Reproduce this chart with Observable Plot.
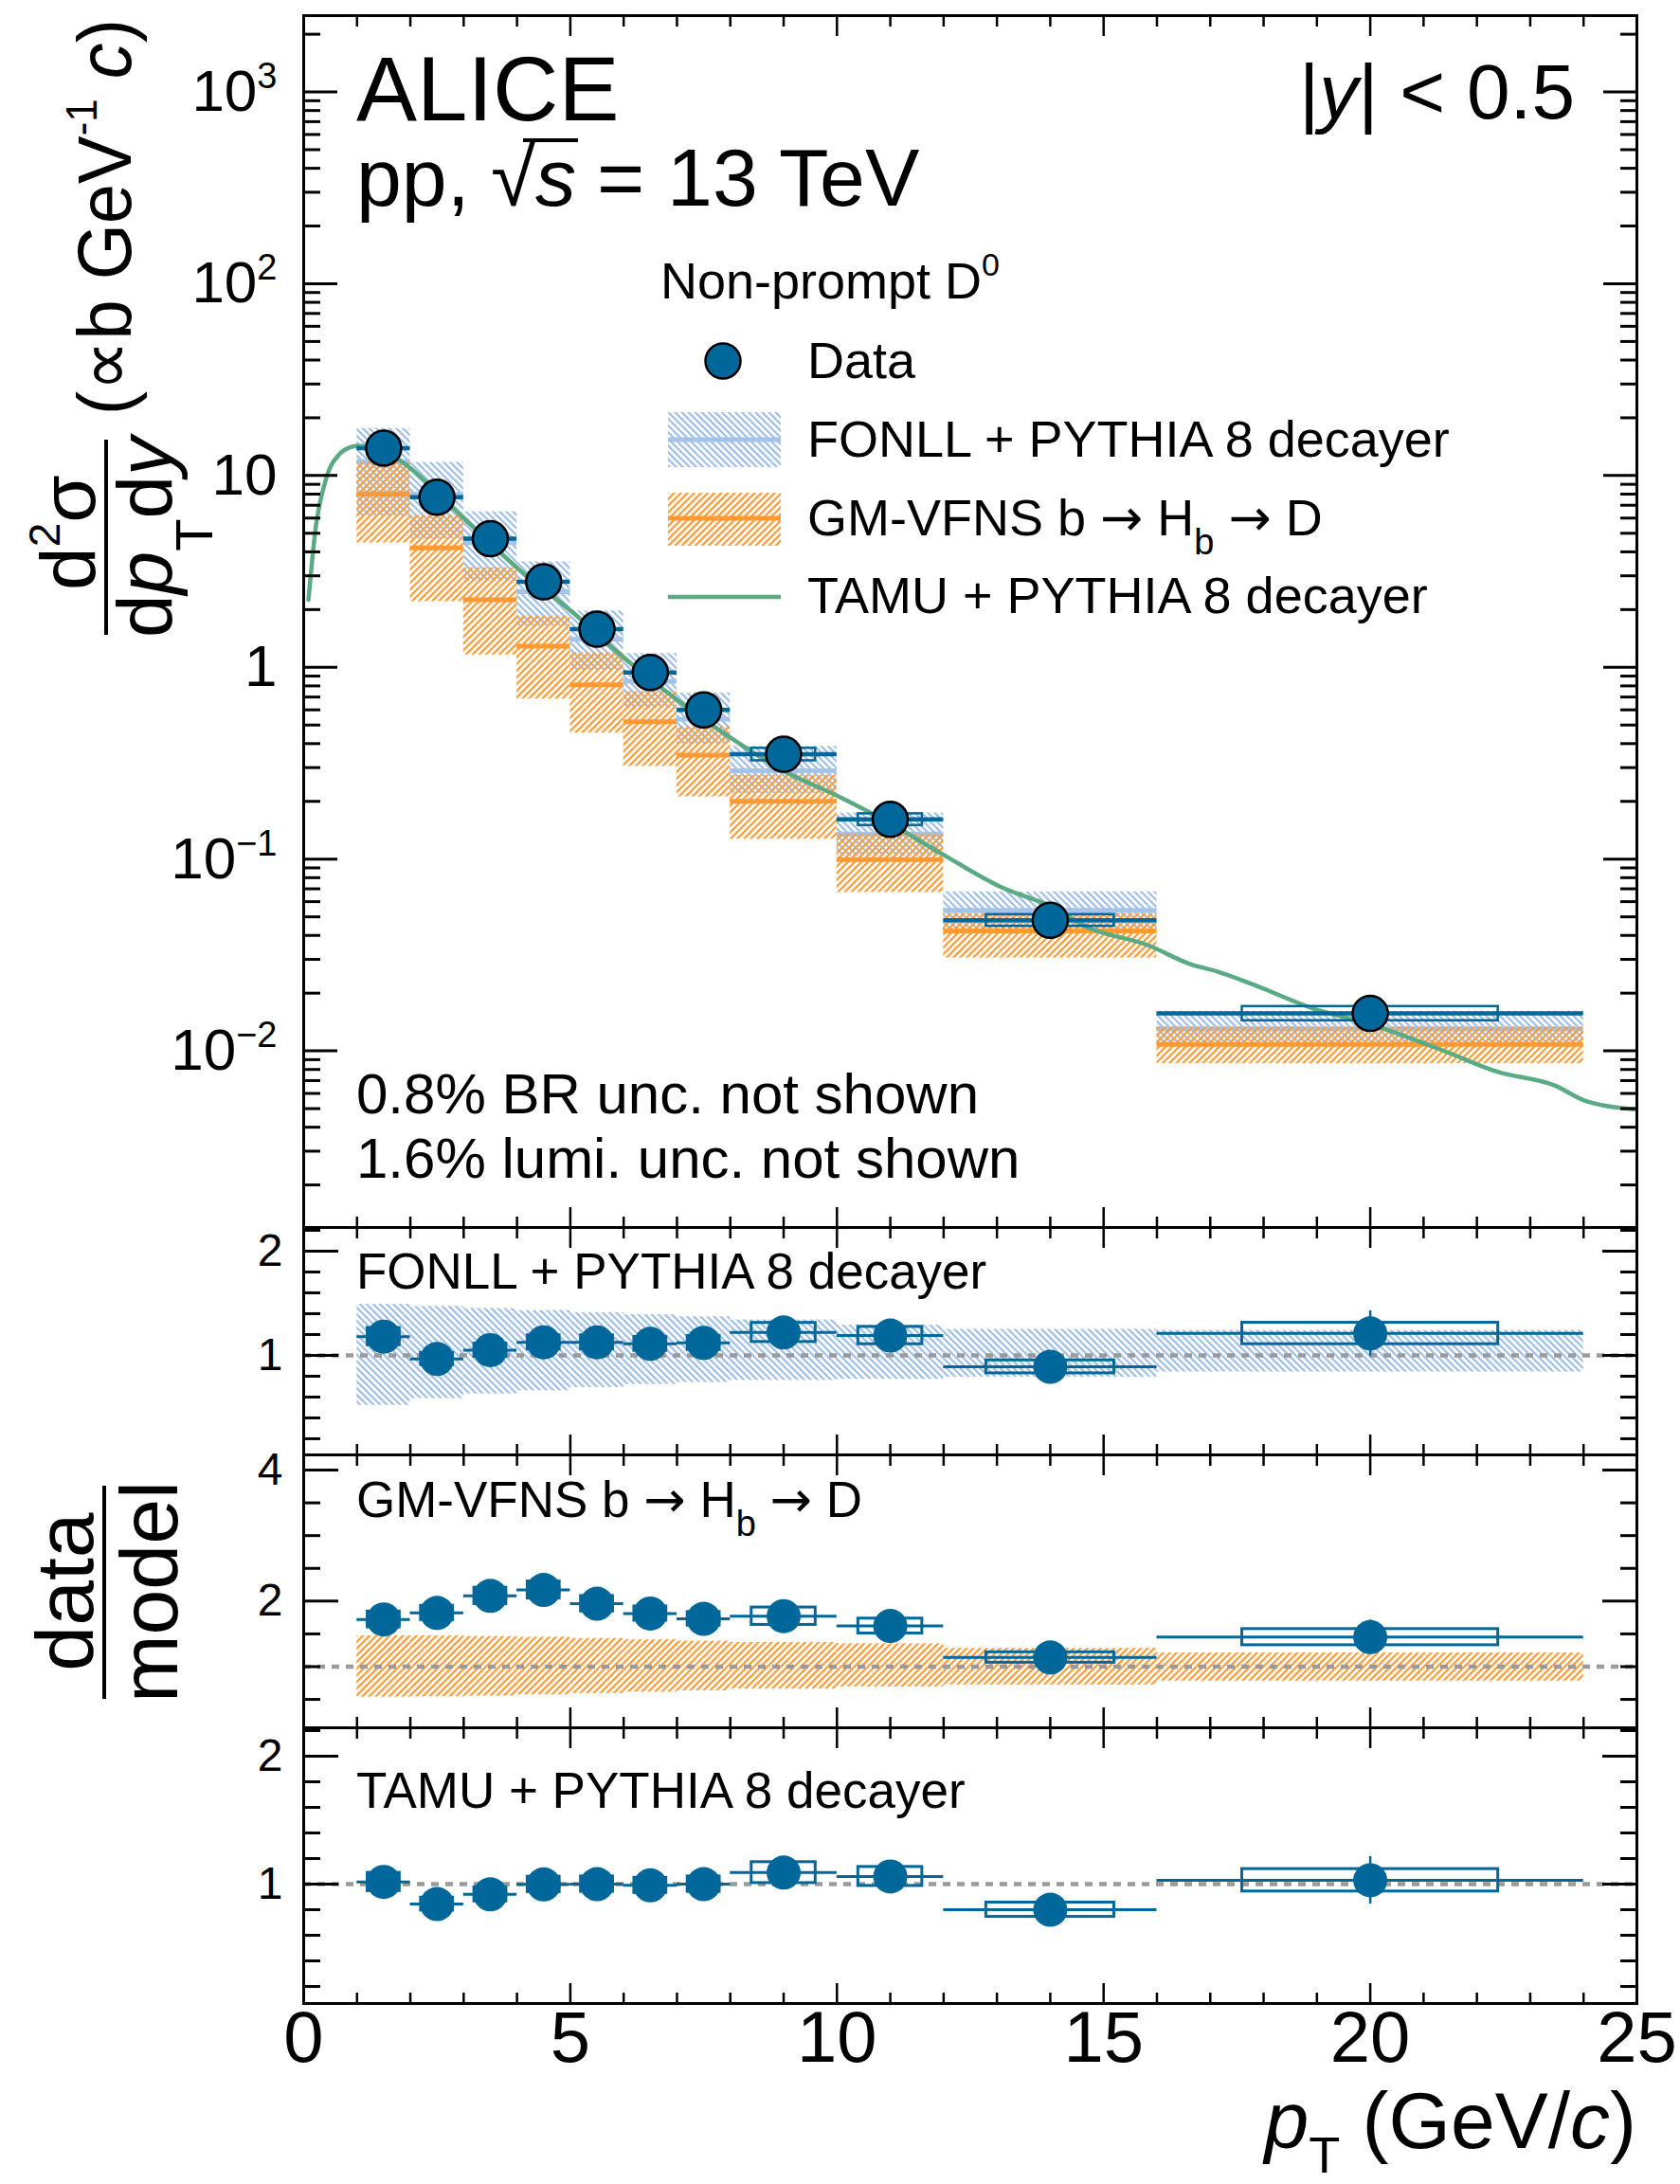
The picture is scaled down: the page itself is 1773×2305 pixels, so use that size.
<!DOCTYPE html>
<html>
<head>
<meta charset="utf-8">
<script src="https://cdn.jsdelivr.net/npm/d3@7"></script>
<script src="https://cdn.jsdelivr.net/npm/@observablehq/plot@0.6"></script>
<style>
  html, body { margin: 0; padding: 0; background: #fff; }
  #chart { position: relative; width: 1773px; height: 2305px; overflow: hidden; background: #fff; }
</style>
</head>
<body>
<svg width="0" height="0" style="position:absolute">
  <defs>
    <pattern id="hatchBlue" patternUnits="userSpaceOnUse" width="5" height="5" patternTransform="rotate(-45)">
      <rect x="0" y="0" width="2.2" height="5" fill="#9dbde3"></rect>
    </pattern>
    <pattern id="hatchOrange" patternUnits="userSpaceOnUse" width="5" height="5" patternTransform="rotate(45)">
      <rect x="0" y="0" width="2.2" height="5" fill="#ff9933"></rect>
    </pattern>
  </defs>
</svg>
<div id="chart"></div>
<script>
// ---------------- data ----------------
const binLo = [1, 2, 3, 4, 5, 6, 7, 8, 10, 12, 16];
const binHi = [2, 3, 4, 5, 6, 7, 8, 10, 12, 16, 24];
const ptCenter = [1.5, 2.5, 3.5, 4.5, 5.5, 6.5, 7.5, 9, 11, 14, 20];
const dataVal = [13.9, 7.7, 4.68, 2.79, 1.58, 0.94, 0.60, 0.352, 0.161, 0.048, 0.0157];
const dataStatRel = [0.02, 0.025, 0.03, 0.03, 0.03, 0.035, 0.04, 0.04, 0.05, 0.08, 0.18];
const dataSystRel = [0.07, 0.06, 0.06, 0.06, 0.06, 0.06, 0.06, 0.075, 0.07, 0.07, 0.085];

const fonllCentral = [11.8, 7.98, 4.46, 2.48, 1.40, 0.847, 0.536, 0.289, 0.135, 0.054, 0.013];
const fonllHigh = [17.6, 11.7, 6.47, 3.55, 1.97, 1.18, 0.734, 0.387, 0.174, 0.0675, 0.0161];
const fonllLow = [6.14, 4.67, 2.81, 1.64, 0.966, 0.610, 0.397, 0.220, 0.104, 0.0427, 0.0109];

const gmCentral = [8.0, 4.2, 2.25, 1.29, 0.81, 0.52, 0.348, 0.2, 0.0995, 0.0422, 0.0108];
const gmHigh = [11.7, 6.19, 3.30, 1.85, 1.19, 0.746, 0.49, 0.274, 0.1345, 0.052, 0.0133];
const gmLow = [4.45, 2.20, 1.16, 0.684, 0.455, 0.304, 0.211, 0.127, 0.067, 0.0305, 0.00857];

const tamuPt = [0.09, 0.22, 0.42, 0.68, 0.86, 1.0, 1.2, 1.5, 1.78, 3.0, 4.02, 5.04, 5.96, 6.98, 8.0, 9.02, 10.0, 10.97, 11.98, 13.1, 14.02, 14.66, 15.84, 16.63, 17.12, 17.82, 18.91, 20.0, 21.38, 22.37, 23.46, 24.06, 24.95];
const tamuVal = [2.25, 5.2, 9.6, 13.0, 14.0, 14.3, 14.2, 13.4, 12.1, 6.0, 3.27, 1.94, 1.15, 0.684, 0.43, 0.286, 0.214, 0.155, 0.106, 0.071, 0.0565, 0.0446, 0.0355, 0.0283, 0.026, 0.0221, 0.0167, 0.0138, 0.01, 0.0078, 0.0066, 0.00545, 0.00496];

const ratioFonll = [1.18, 0.965, 1.05, 1.125, 1.125, 1.11, 1.12, 1.22, 1.19, 0.89, 1.21];
const fonllBandHigh = [1.49, 1.47, 1.45, 1.43, 1.41, 1.39, 1.37, 1.34, 1.29, 1.25, 1.24];
const fonllBandLow = [0.52, 0.585, 0.63, 0.66, 0.69, 0.72, 0.74, 0.76, 0.77, 0.79, 0.84];

const ratioGm = [1.72, 1.82, 2.08, 2.17, 1.96, 1.81, 1.73, 1.77, 1.62, 1.14, 1.45];
const gmBandHigh = [1.47, 1.47, 1.46, 1.45, 1.43, 1.41, 1.39, 1.37, 1.35, 1.28, 1.21];
const gmBandLow = [0.535, 0.54, 0.55, 0.57, 0.59, 0.61, 0.63, 0.66, 0.69, 0.72, 0.78];

const ratioTamu = [1.017, 0.844, 0.92, 0.998, 1.0, 0.99, 1.0, 1.09, 1.06, 0.80, 1.03];

const refLine = [1];

// tick values and labels
const xMajorTicks = [0, 5, 10, 15, 20, 25];
const xMinorTicks = [1, 2, 3, 4, 6, 7, 8, 9, 11, 12, 13, 14, 16, 17, 18, 19, 21, 22, 23, 24];
const xTickLabels = ["0", "5", "10", "15", "20", "25"];
const yMainMajor = [0.01, 0.1, 1, 10, 100, 1000];
const yMainLabels = ["10^\u22122", "10^\u22121", "1", "10", "10^2", "10^3"];
const yMainMinor = [];
for (const e of [-3, -2, -1, 0, 1, 2, 3]) for (let m = 2; m <= 9; m++) {
  const v = m * Math.pow(10, e);
  if (v > 1.2e-3 && v < 2.5e3) yMainMinor.push(+v.toPrecision(3));
}
const r2Major = [1, 2], r2Minor = [0.2, 0.4, 0.6, 0.8, 1.2, 1.4, 1.6, 1.8, 2.2];
const r3Major = [2, 4], r3Minor = [0.5, 1, 1.5, 2.5, 3, 3.5];
const r4Major = [1, 2], r4Minor = [0.2, 0.4, 0.6, 0.8, 1.2, 1.4, 1.6, 1.8, 2.2];

// ---------------- style ----------------
const blue = "#00679b", lightBlue = "#a3c3e8", orange = "#ff9933", green = "#5aaa84", gray = "#9a9a9a";
const font = '"Liberation Sans", Arial, Helvetica, sans-serif';
const arrowFont = '"DejaVu Sans", sans-serif';
const W = 1773, ML = 320, MR = 46;

const rows = ptCenter.map((pt, i) => {
  const bw = binHi[i] - binLo[i];
  return {
    pt, lo: binLo[i], hi: binHi[i], boxLo: pt - 0.3 * bw, boxHi: pt + 0.3 * bw,
    val: dataVal[i], stat: dataStatRel[i], sys: dataSystRel[i],
    fonll: fonllCentral[i], fonllHi: fonllHigh[i], fonllLo: fonllLow[i],
    gm: gmCentral[i], gmHi: gmHigh[i], gmLo: gmLow[i],
    rF: ratioFonll[i], rFHi: fonllBandHigh[i], rFLo: fonllBandLow[i],
    rG: ratioGm[i], rGHi: gmBandHigh[i], rGLo: gmBandLow[i],
    rT: ratioTamu[i]
  };
});
const tamu = tamuPt.map((x, i) => ({x, y: tamuVal[i]}));

const blank = () => "";
function xTickMarks() {
  return [
    Plot.axisX({anchor: "top", ticks: xMajorTicks, tickSize: -21, tickFormat: blank, strokeWidth: 2.5, label: null}),
    Plot.axisX({anchor: "top", ticks: xMinorTicks, tickSize: -11, tickFormat: blank, strokeWidth: 2.5, label: null}),
    Plot.axisX({anchor: "bottom", ticks: xMajorTicks, tickSize: -21, tickFormat: blank, strokeWidth: 2.5, label: null}),
    Plot.axisX({anchor: "bottom", ticks: xMinorTicks, tickSize: -11, tickFormat: blank, strokeWidth: 2.5, label: null})
  ];
}
function yTickMarks(major, minor, majLen, minLen) {
  return [
    Plot.axisY({anchor: "left", ticks: major, tickSize: -majLen, tickFormat: blank, strokeWidth: 3, label: null}),
    Plot.axisY({anchor: "left", ticks: minor, tickSize: -minLen, tickFormat: blank, strokeWidth: 3, label: null}),
    Plot.axisY({anchor: "right", ticks: major, tickSize: -majLen, tickFormat: blank, strokeWidth: 3, label: null}),
    Plot.axisY({anchor: "right", ticks: minor, tickSize: -minLen, tickFormat: blank, strokeWidth: 3, label: null})
  ];
}

const chart = document.getElementById("chart");
function place(svg, top) {
  svg.style.position = "absolute";
  svg.style.left = "0px";
  svg.style.top = top + "px";
  svg.style.overflow = "visible";
  svg.style.background = "transparent";
  svg.style.maxWidth = "none";
  chart.appendChild(svg);
  const s = d3.select(svg);
  s.selectAll("text").filter(function () { return this.textContent === ""; }).remove();
  return s;
}

function rich(sel, x, y, size, parts, anchor = "start") {
  const t = sel.append("text").attr("x", x).attr("y", y).attr("font-size", size)
    .attr("text-anchor", anchor).attr("font-family", font).attr("fill", "black");
  let shift = 0;
  for (const p of parts) {
    const s = typeof p === "string" ? {t: p} : p;
    const ts = t.append("tspan").text(s.t);
    const target = s.dy !== undefined ? s.dy : 0;
    if (target - shift !== 0) ts.attr("dy", target - shift);
    shift = target;
    if (s.x !== undefined) ts.attr("x", s.x);
    if (s.size) ts.attr("font-size", s.size);
    if (s.italic) ts.attr("font-style", "italic");
    if (s.family) ts.attr("font-family", s.family);
  }
  return t;
}
const arrow = {t: "\u2192", family: arrowFont};

// ---------------- main panel ----------------
const mainSvg = Plot.plot({
  width: W, height: 1295,
  marginLeft: ML, marginRight: MR, marginTop: 16, marginBottom: 0,
  style: {fontFamily: font},
  x: {domain: [0, 25], label: null},
  y: {type: "log", domain: [1.2e-3, 2.5e3], label: null},
  marks: [
    Plot.rect(rows, {x1: "lo", x2: "hi", y1: "fonllLo", y2: "fonllHi", fill: "url(#hatchBlue)"}),
    Plot.ruleY(rows, {x1: "lo", x2: "hi", y: "fonll", stroke: lightBlue, strokeWidth: 5}),
    Plot.rect(rows, {x1: "lo", x2: "hi", y1: "gmLo", y2: "gmHi", fill: "url(#hatchOrange)"}),
    Plot.ruleY(rows, {x1: "lo", x2: "hi", y: "gm", stroke: orange, strokeWidth: 5}),
    Plot.line(tamu, {x: "x", y: "y", stroke: green, strokeWidth: 4.5, curve: "monotone-x"}),
    Plot.ruleY(rows, {x1: "lo", x2: "hi", y: "val", stroke: blue, strokeWidth: 4.5}),
    Plot.rect(rows, {x1: "boxLo", x2: "boxHi", y1: d => d.val * (1 - d.sys), y2: d => d.val * (1 + d.sys), fill: "none", stroke: blue, strokeWidth: 2.5}),
    Plot.ruleX(rows, {x: "pt", y1: d => d.val * (1 - d.stat), y2: d => d.val * (1 + d.stat), stroke: blue, strokeWidth: 2.5}),
    Plot.dot(rows, {x: "pt", y: "val", r: 18.5, fill: blue, stroke: "black", strokeWidth: 2.5}),
    Plot.frame({stroke: "black", strokeWidth: 3}),
    ...xTickMarks(),
    ...yTickMarks(yMainMajor, yMainMinor, 36, 18),
    Plot.axisY({anchor: "left", ticks: yMainMajor, tickSize: 0, tickPadding: 28, fontSize: 62,
      tickFormat: d => yMainLabels[yMainMajor.indexOf(d)], label: null})
  ]
});
const main = place(mainSvg, 0);
main.selectAll('g[aria-label="y-axis tick label"] text').each(function () {
  const s = this.textContent;
  if (s.includes("^")) {
    const [b, e] = s.split("^");
    const t = d3.select(this);
    t.text(null);
    t.append("tspan").text(b);
    t.append("tspan").attr("dy", -24).attr("font-size", 38).text(e);
  }
});

// header texts
rich(main, 376, 127, 96, ["ALICE"]);
rich(main, 376, 217, 86, ["pp,", {t: "\u221A", x: 518}, {t: "s", italic: true, x: 565}, {t: "= 13 TeV", x: 630}]);
main.append("line").attr("x1", 552).attr("x2", 610).attr("y1", 148).attr("y2", 148).attr("stroke", "black").attr("stroke-width", 4);
rich(main, 1662, 125, 82, ["|", {t: "y", italic: true}, "| < 0.5"], "end");
rich(main, 697, 315, 54, ["Non-prompt D", {t: "0", size: 34, dy: -24}]);

// legend
const lg = main.append("g");
lg.append("circle").attr("cx", 763).attr("cy", 381).attr("r", 18.5).attr("fill", blue).attr("stroke", "black").attr("stroke-width", 2.5);
lg.append("rect").attr("x", 705).attr("y", 435).attr("width", 119).attr("height", 58).attr("fill", "url(#hatchBlue)");
lg.append("line").attr("x1", 705).attr("x2", 824).attr("y1", 464).attr("y2", 464).attr("stroke", lightBlue).attr("stroke-width", 5);
lg.append("rect").attr("x", 705).attr("y", 520).attr("width", 119).attr("height", 56).attr("fill", "url(#hatchOrange)");
lg.append("line").attr("x1", 705).attr("x2", 824).attr("y1", 547).attr("y2", 547).attr("stroke", orange).attr("stroke-width", 5);
lg.append("line").attr("x1", 705).attr("x2", 824).attr("y1", 630).attr("y2", 630).attr("stroke", green).attr("stroke-width", 4.5);
rich(lg, 852, 399, 54, ["Data"]);
rich(lg, 852, 482, 54, ["FONLL + PYTHIA 8 decayer"]);
rich(lg, 852, 565, 54, ["GM-VFNS b ", arrow, " H", {t: "b", size: 38, dy: 20}, {t: " ", dy: 0}, arrow, " D"]);
rich(lg, 852, 647, 54, ["TAMU + PYTHIA 8 decayer"]);

rich(main, 376, 1175, 60, ["0.8% BR unc. not shown"]);
rich(main, 376, 1243, 60, ["1.6% lumi. unc. not shown"]);

// y title (rotated)
const yt = main.append("g");
rich(yt.append("g").attr("transform", "translate(100,562) rotate(-90)"), 0, 0, 82,
  ["d", {t: "2", size: 46, dy: -37}, {t: "\u03C3", dy: 0}], "middle");
yt.append("line").attr("x1", 112).attr("x2", 112).attr("y1", 464).attr("y2", 670).attr("stroke", "black").attr("stroke-width", 4);
rich(yt.append("g").attr("transform", "translate(181,567) rotate(-90)"), 0, 0, 82,
  ["d", {t: "p", italic: true}, {t: "T", size: 56, dy: 43}, {t: "d", dy: 0}, {t: "y", italic: true}], "middle");
rich(yt.append("g").attr("transform", "translate(138,229) rotate(-90)"), 0, 0, 80,
  ["(\u221Db GeV", {t: "-1", size: 46, dy: -36}, {t: " ", dy: 0}, {t: "c", italic: true}, ")"], "middle")
  .attr("textLength", 418).attr("lengthAdjust", "spacingAndGlyphs");

// ---------------- ratio panels ----------------
function ratioPanel({top, height, marginBottom = 0, domain, key, bandLo, bandHi, hatch, major, minor}) {
  const marks = [];
  if (bandLo) marks.push(Plot.rect(rows, {x1: "lo", x2: "hi", y1: bandLo, y2: bandHi, fill: hatch}));
  marks.push(
    Plot.ruleY(refLine, {stroke: gray, strokeWidth: 4.5, strokeDasharray: "8,7"}),
    Plot.ruleY(rows, {x1: "lo", x2: "hi", y: key, stroke: blue, strokeWidth: 3}),
    Plot.rect(rows, {x1: "boxLo", x2: "boxHi", y1: d => d[key] * (1 - d.sys), y2: d => d[key] * (1 + d.sys), fill: "none", stroke: blue, strokeWidth: 3}),
    Plot.ruleX(rows, {x: "pt", y1: d => d[key] * (1 - d.stat), y2: d => d[key] * (1 + d.stat), stroke: blue, strokeWidth: 2.5}),
    Plot.dot(rows, {x: "pt", y: key, r: 18, fill: blue}),
    Plot.frame({stroke: "black", strokeWidth: 3}),
    ...xTickMarks(),
    ...yTickMarks(major, minor, 37, 18),
    Plot.axisY({anchor: "left", ticks: major, tickSize: 0, tickPadding: 22, fontSize: 48, tickFormat: d => String(d), label: null})
  );
  if (marginBottom) marks.push(
    Plot.axisX({anchor: "bottom", ticks: xMajorTicks, tickSize: 0, tickPadding: 8, fontSize: 76,
      tickFormat: d => xTickLabels[xMajorTicks.indexOf(d)], label: null})
  );
  const svg = Plot.plot({
    width: W, height: height + marginBottom,
    marginLeft: ML, marginRight: MR, marginTop: 0, marginBottom,
    style: {fontFamily: font},
    x: {domain: [0, 25], label: null},
    y: {domain, label: null},
    marks
  });
  return place(svg, top);
}

const p2 = ratioPanel({top: 1295, height: 240, domain: [0.045, 2.227], key: "rF", bandLo: "rFLo", bandHi: "rFHi", hatch: "url(#hatchBlue)", major: r2Major, minor: r2Minor});
rich(p2, 376, 65, 53, ["FONLL + PYTHIA 8 decayer"]);

const p3 = ratioPanel({top: 1535, height: 288, domain: [0.067, 4.232], key: "rG", bandLo: "rGLo", bandHi: "rGHi", hatch: "url(#hatchOrange)", major: r3Major, minor: r3Minor});
rich(p3, 376, 66, 53, ["GM-VFNS b ", arrow, " H", {t: "b", size: 38, dy: 20}, {t: " ", dy: 0}, arrow, " D"]);
// data / model title
rich(p3.append("g").attr("transform", "translate(98,145) rotate(-90)"), 0, 0, 86, ["data"], "middle");
p3.append("line").attr("x1", 110).attr("x2", 110).attr("y1", 33).attr("y2", 258).attr("stroke", "black").attr("stroke-width", 4);
rich(p3.append("g").attr("transform", "translate(187,145) rotate(-90)"), 0, 0, 86, ["model"], "middle");

const p4 = ratioPanel({top: 1823, height: 291, marginBottom: 191, domain: [0.067, 2.222], key: "rT", major: r4Major, minor: r4Minor});
rich(p4, 376, 85, 53, ["TAMU + PYTHIA 8 decayer"]);
rich(p4, 1727, 444, 84, [{t: "p", italic: true}, {t: "T", size: 54, dy: 26}, {t: " (GeV/", dy: 0}, {t: "c", italic: true}, ")"], "end");
</script>
</body>
</html>
